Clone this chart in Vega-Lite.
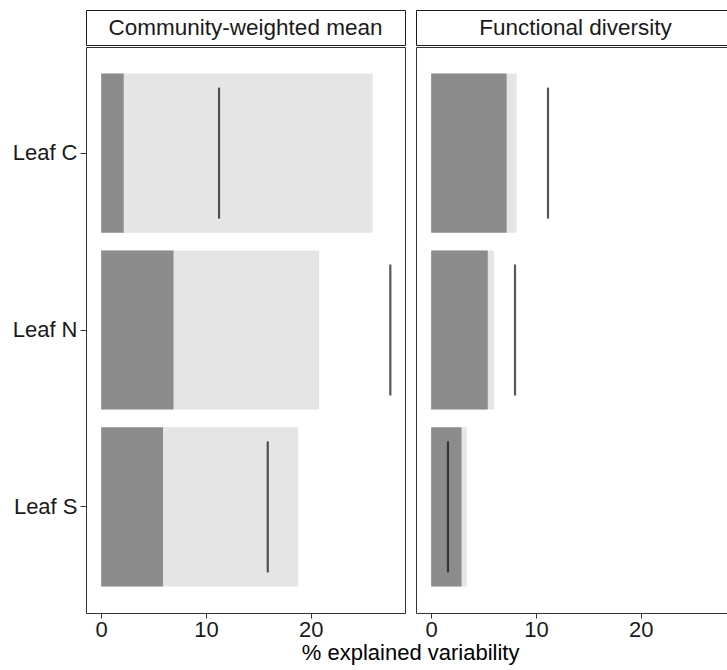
{
  "$schema": "https://vega.github.io/schema/vega-lite/v6.json",
  "padding": {"left": 11, "top": 9, "right": 0, "bottom": 2},
  "config": {"font": "Liberation Sans", "view": {"stroke": "#333333"}},
  "datasets": {
    "cwm": [
      {"trait": "Leaf C", "total": 25.9, "part": 2.15, "line": 11.25},
      {"trait": "Leaf N", "total": 20.8, "part": 6.9, "line": 27.6},
      {"trait": "Leaf S", "total": 18.8, "part": 5.9, "line": 15.9}
    ],
    "fd": [
      {"trait": "Leaf C", "total": 8.15, "part": 7.2, "line": 11.15},
      {"trait": "Leaf N", "total": 6.0, "part": 5.4, "line": 8.0},
      {"trait": "Leaf S", "total": 3.4, "part": 2.9, "line": 1.6}
    ]
  },
  "title": {"text": "% explained variability", "orient": "bottom", "anchor": "middle", "frame": "bounds", "fontSize": 22, "fontWeight": "normal", "color": "#000000", "offset": 2, "dx": 37},
  "spacing": 9,
  "hconcat": [
    {
      "spacing": 0,
      "vconcat": [
        {
          "data": {"values": [{"panel": "Community-weighted mean"}]},
          "width": 319, "height": 35,
          "view": {"stroke": "#1a1a1a"},
          "mark": {"type": "text", "fontSize": 22.5, "color": "#1a1a1a"},
          "encoding": {"text": {"field": "panel", "type": "nominal"}}
        },
        {
          "data": {"name": "cwm"},
          "width": 319, "height": 566,
          "view": {"stroke": "#333333"},
          "encoding": {
            "y": {"field": "trait", "type": "nominal", "sort": ["Leaf C", "Leaf N", "Leaf S"],
              "scale": {"paddingInner": 0.1, "paddingOuter": 0.15},
              "axis": {"title": null, "domain": false, "tickSize": 6, "tickColor": "#333333", "labelFontSize": 22, "labelColor": "#1a1a1a", "labelPadding": 3}}
          },
          "layer": [
            {"mark": {"type": "bar", "color": "#e5e5e5"},
             "encoding": {
               "x": {"field": "total", "type": "quantitative", "scale": {"domain": [-1.45, 29], "nice": false, "zero": false},
                 "axis": {"title": null, "values": [0, 10, 20], "grid": false, "domain": false, "tickSize": 5, "tickColor": "#333333", "labelFontSize": 22, "labelColor": "#1a1a1a", "labelPadding": 1}},
               "x2": {"datum": 0}}},
            {"mark": {"type": "bar", "color": "#8c8c8c"},
             "encoding": {"x": {"field": "part", "type": "quantitative"}, "x2": {"datum": 0}}},
            {"mark": {"type": "tick", "orient": "vertical", "size": 131, "thickness": 2.2, "color": "#111111"},
             "encoding": {"x": {"field": "line", "type": "quantitative"}}}
          ]
        }
      ]
    },
    {
      "spacing": 0,
      "vconcat": [
        {
          "data": {"values": [{"panel": "Functional diversity"}]},
          "width": 319, "height": 35,
          "view": {"stroke": "#1a1a1a"},
          "mark": {"type": "text", "fontSize": 22.5, "color": "#1a1a1a"},
          "encoding": {"text": {"field": "panel", "type": "nominal"}}
        },
        {
          "data": {"name": "fd"},
          "width": 319, "height": 566,
          "view": {"stroke": "#333333"},
          "encoding": {
            "y": {"field": "trait", "type": "nominal", "sort": ["Leaf C", "Leaf N", "Leaf S"],
              "scale": {"paddingInner": 0.1, "paddingOuter": 0.15},
              "axis": null}
          },
          "layer": [
            {"mark": {"type": "bar", "color": "#e5e5e5"},
             "encoding": {
               "x": {"field": "total", "type": "quantitative", "scale": {"domain": [-1.45, 29], "nice": false, "zero": false},
                 "axis": {"title": null, "values": [0, 10, 20], "grid": false, "domain": false, "tickSize": 5, "tickColor": "#333333", "labelFontSize": 22, "labelColor": "#1a1a1a", "labelPadding": 1}},
               "x2": {"datum": 0}}},
            {"mark": {"type": "bar", "color": "#8c8c8c"},
             "encoding": {"x": {"field": "part", "type": "quantitative"}, "x2": {"datum": 0}}},
            {"mark": {"type": "tick", "orient": "vertical", "size": 131, "thickness": 2.2, "color": "#111111"},
             "encoding": {"x": {"field": "line", "type": "quantitative"}}}
          ]
        }
      ]
    }
  ]
}
